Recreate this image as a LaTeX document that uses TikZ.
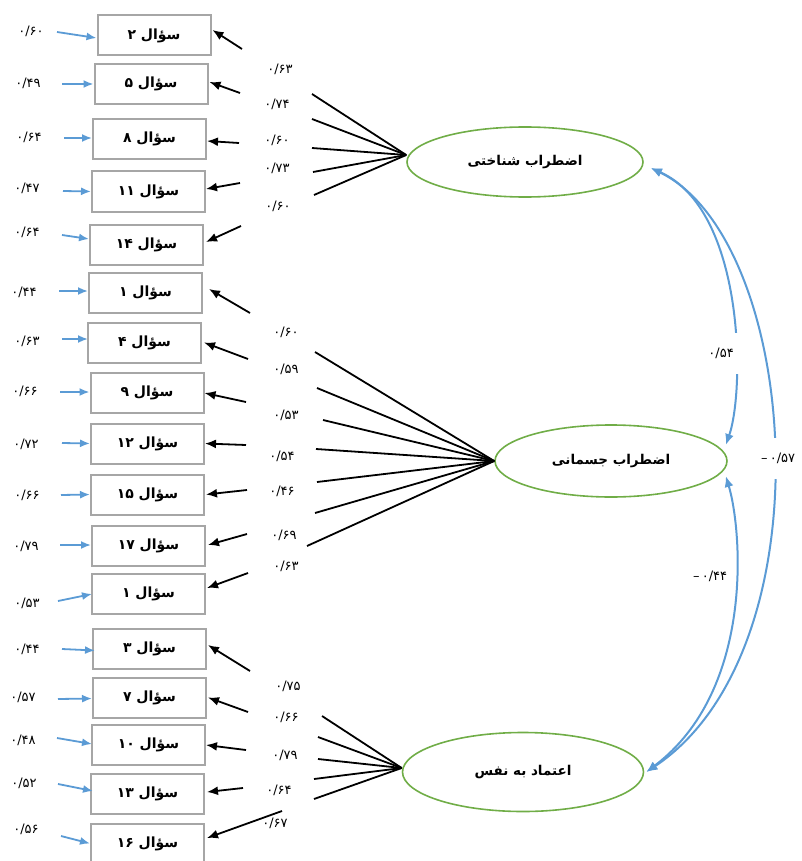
\documentclass[tikz,border=0pt]{standalone}
\usepackage{fontspec}
\usetikzlibrary{shapes.geometric,arrows.meta}
\TeXXeTstate=1
\newfontfamily\fafont[Script=Arabic]{DejaVu Sans}
\definecolor{boxgray}{HTML}{A6A6A6}
\definecolor{cgreen}{HTML}{70AD47}
\definecolor{cblue}{HTML}{5B9BD5}
\begin{document}
\begin{tikzpicture}[x=1pt,y=-1pt,
  qbox/.style={draw=boxgray, line width=2pt, minimum width=113pt, minimum height=40pt, inner sep=0pt, font=\fafont\bfseries\fontsize{14}{16}\selectfont},
  factor/.style={ellipse, draw=cgreen, line width=1.6pt, inner sep=0pt, font=\fafont\bfseries\fontsize{13.5}{16}\selectfont},
  num/.style={font=\fafont\fontsize{13}{15}\selectfont, inner sep=1pt},
  blk/.style={line width=1.8pt, -{Latex[length=11pt,width=9pt]}},
  bl/.style={cblue, line width=1.8pt, -{Latex[length=10pt,width=8pt]}},
  load/.style={line width=1.8pt},
  cov/.style={cblue, line width=2pt, {Latex[length=11pt,width=9pt]}-{Latex[length=11pt,width=9pt]}},
  gap/.style={num, fill=white, minimum height=41pt}]
\useasboundingbox (0,0) rectangle (801,861);

% boxes
\foreach \n/\cx/\cy/\d in {2/154/35.5/۲, 5/151/84/۵, 8/149.5/139/۸, 11/148.5/191.5/۱۱, 14/146.5/245/۱۴,
  1/145.5/292.5/۱, 4/144.5/342.5/۴, 9/147/393/۹, 12/147.5/443.5/۱۲, 15/147.5/494.5/۱۵, 17/148.5/546/۱۷, 1b/148.5/594/۱,
  3/149.5/648.5/۳, 7/149.5/697.5/۷, 10/148.5/745/۱۰, 13/147.5/793.5/۱۳, 16/147.5/843.5/۱۶}
  {\node[qbox] (b\n) at (\cx,\cy) {\beginR سؤال \d\endR};}

% factors
\node[factor, minimum width=236pt, minimum height=70pt] (e1) at (525,162) {\beginR اضطراب شناختی\endR};
\node[factor, minimum width=232pt, minimum height=72pt] (e2) at (611,461) {\beginR اضطراب جسمانی\endR};
\node[factor, minimum width=241pt, minimum height=79pt] (e3) at (523,772) {\beginR اعتماد به نفس\endR};

% black arrows into boxes
\foreach \n/\sx/\sy/\dx/\dy in {2/242/49/1/-5.5, 5/240/93/1/-2, 8/239/143/0/2, 11/240/183/0/-2.5, 14/241/226/2/-3,
  1/250/313/6/-3.5, 4/248/359/2/0, 9/246/402/0/0, 12/246/445/0/0, 15/247/490/1/0, 17/247/534/2/-1, 1b/248/573/1/-6,
  3/250/671/1/-3.5, 7/248/712/1/0, 10/246/750/0/0, 13/243/788/2/-1.5, 16/282/811/2/-5.5}
  {\coordinate (s\n) at (\sx,\sy); \draw[blk] (s\n) -- ([shift={(\dx,\dy)}]b\n.east);}

% blue error arrows with values
\foreach \n/\sx/\sy/\dx/\dy/\v/\lx/\ly in {2/57/32/0/2.5/{۰/۶۰}/31/31, 5/62/84/0/0/{۰/۴۹}/28/83, 8/64/138/0/-1/{۰/۶۴}/29/137,
  11/63/191/0/0/{۰/۴۷}/27/188, 14/62/235/0/-6/{۰/۶۴}/27/232, 1/59/291/0/-1.5/{۰/۴۴}/24/292, 4/62/339/1/-3.5/{۰/۶۳}/27/341,
  9/60/392/0/-1/{۰/۶۶}/25/391, 12/62/443/0/0/{۰/۷۲}/26/444, 15/61/495/0/0/{۰/۶۶}/27/495, 17/60/545/0/-1/{۰/۷۹}/26/546,
  1b/58/601/1/0/{۰/۵۳}/27/603, 3/62/649/3/2/{۰/۴۴}/27/649, 7/58/699/0/1/{۰/۵۷}/23/697, 10/57/738/1/-1/{۰/۴۸}/23/740,
  13/58/784/3/-2.5/{۰/۵۲}/24/783, 16/61/836/0/0/{۰/۵۶}/26/829}
  {\coordinate (u\n) at (\sx,\sy); \draw[bl] (u\n) -- ([shift={(\dx,\dy)}]b\n.west); \node[num] (v\n) at (\lx,\ly) {\v};}

% loading lines
\coordinate (hub1) at ([yshift=7pt]e1.west);
\coordinate (hub2) at (e2.west);
\coordinate (hub3) at ([yshift=4pt]e3.west);
\foreach \n/\x/\y in {a/312/94, b/312/119, c/312/148, d/313/172, e/314/195}
  {\coordinate (fa\n) at (\x,\y); \draw[load] (hub1) -- (fa\n);}
\foreach \n/\x/\y in {a/315/352, b/317/388, c/323/420, d/316/449, e/317/482, f/315/513, g/307/546}
  {\coordinate (fb\n) at (\x,\y); \draw[load] (hub2) -- (fb\n);}
\foreach \n/\x/\y in {a/322/716, b/318/737, c/318/759, d/314/779, e/314/799}
  {\coordinate (fc\n) at (\x,\y); \draw[load] (hub3) -- (fc\n);}

% loading values
\foreach \n/\v/\x/\y in {a/{۰/۶۳}/280/69, b/{۰/۷۴}/277/104, c/{۰/۶۰}/277/140, d/{۰/۷۳}/277/168, e/{۰/۶۰}/278/206}
  {\node[num] (la\n) at (\x,\y) {\v};}
\foreach \n/\v/\x/\y in {a/{۰/۶۰}/286/332, b/{۰/۵۹}/286/369, c/{۰/۵۳}/286/415, d/{۰/۵۴}/282/456, e/{۰/۴۶}/282/491, f/{۰/۶۹}/284/535, g/{۰/۶۳}/286/566}
  {\node[num] (lb\n) at (\x,\y) {\v};}
\foreach \n/\v/\x/\y in {a/{۰/۷۵}/288/686, b/{۰/۶۶}/286/717, c/{۰/۷۹}/285/755, d/{۰/۶۴}/279/790, e/{۰/۶۷}/275/823}
  {\node[num] (lc\n) at (\x,\y) {\v};}

% covariances
\draw[cov] ([shift={(7,6)}]e1.east) .. controls (745,210) and (745,390) .. ([shift={(-2,-16)}]e2.east);
\draw[cov] ([shift={(7,6)}]e1.east) .. controls (800,240) and (830,650) .. ([shift={(2,0)}]e3.east);
\draw[cov] ([shift={(-2,15)}]e2.east) .. controls (742,530) and (755,690) .. ([shift={(2,0)}]e3.east);
\node[gap, anchor=east, inner xsep=6pt] (c12) at (740,353) {۰/۵۴};
\node[gap, anchor=west, inner xsep=3pt] (c13) at (758,458) {–\,۰/۵۷};
\node[gap, anchor=west, inner xsep=3pt] (c23) at (690,576) {–\,۰/۴۴};
\end{tikzpicture}
\end{document}
